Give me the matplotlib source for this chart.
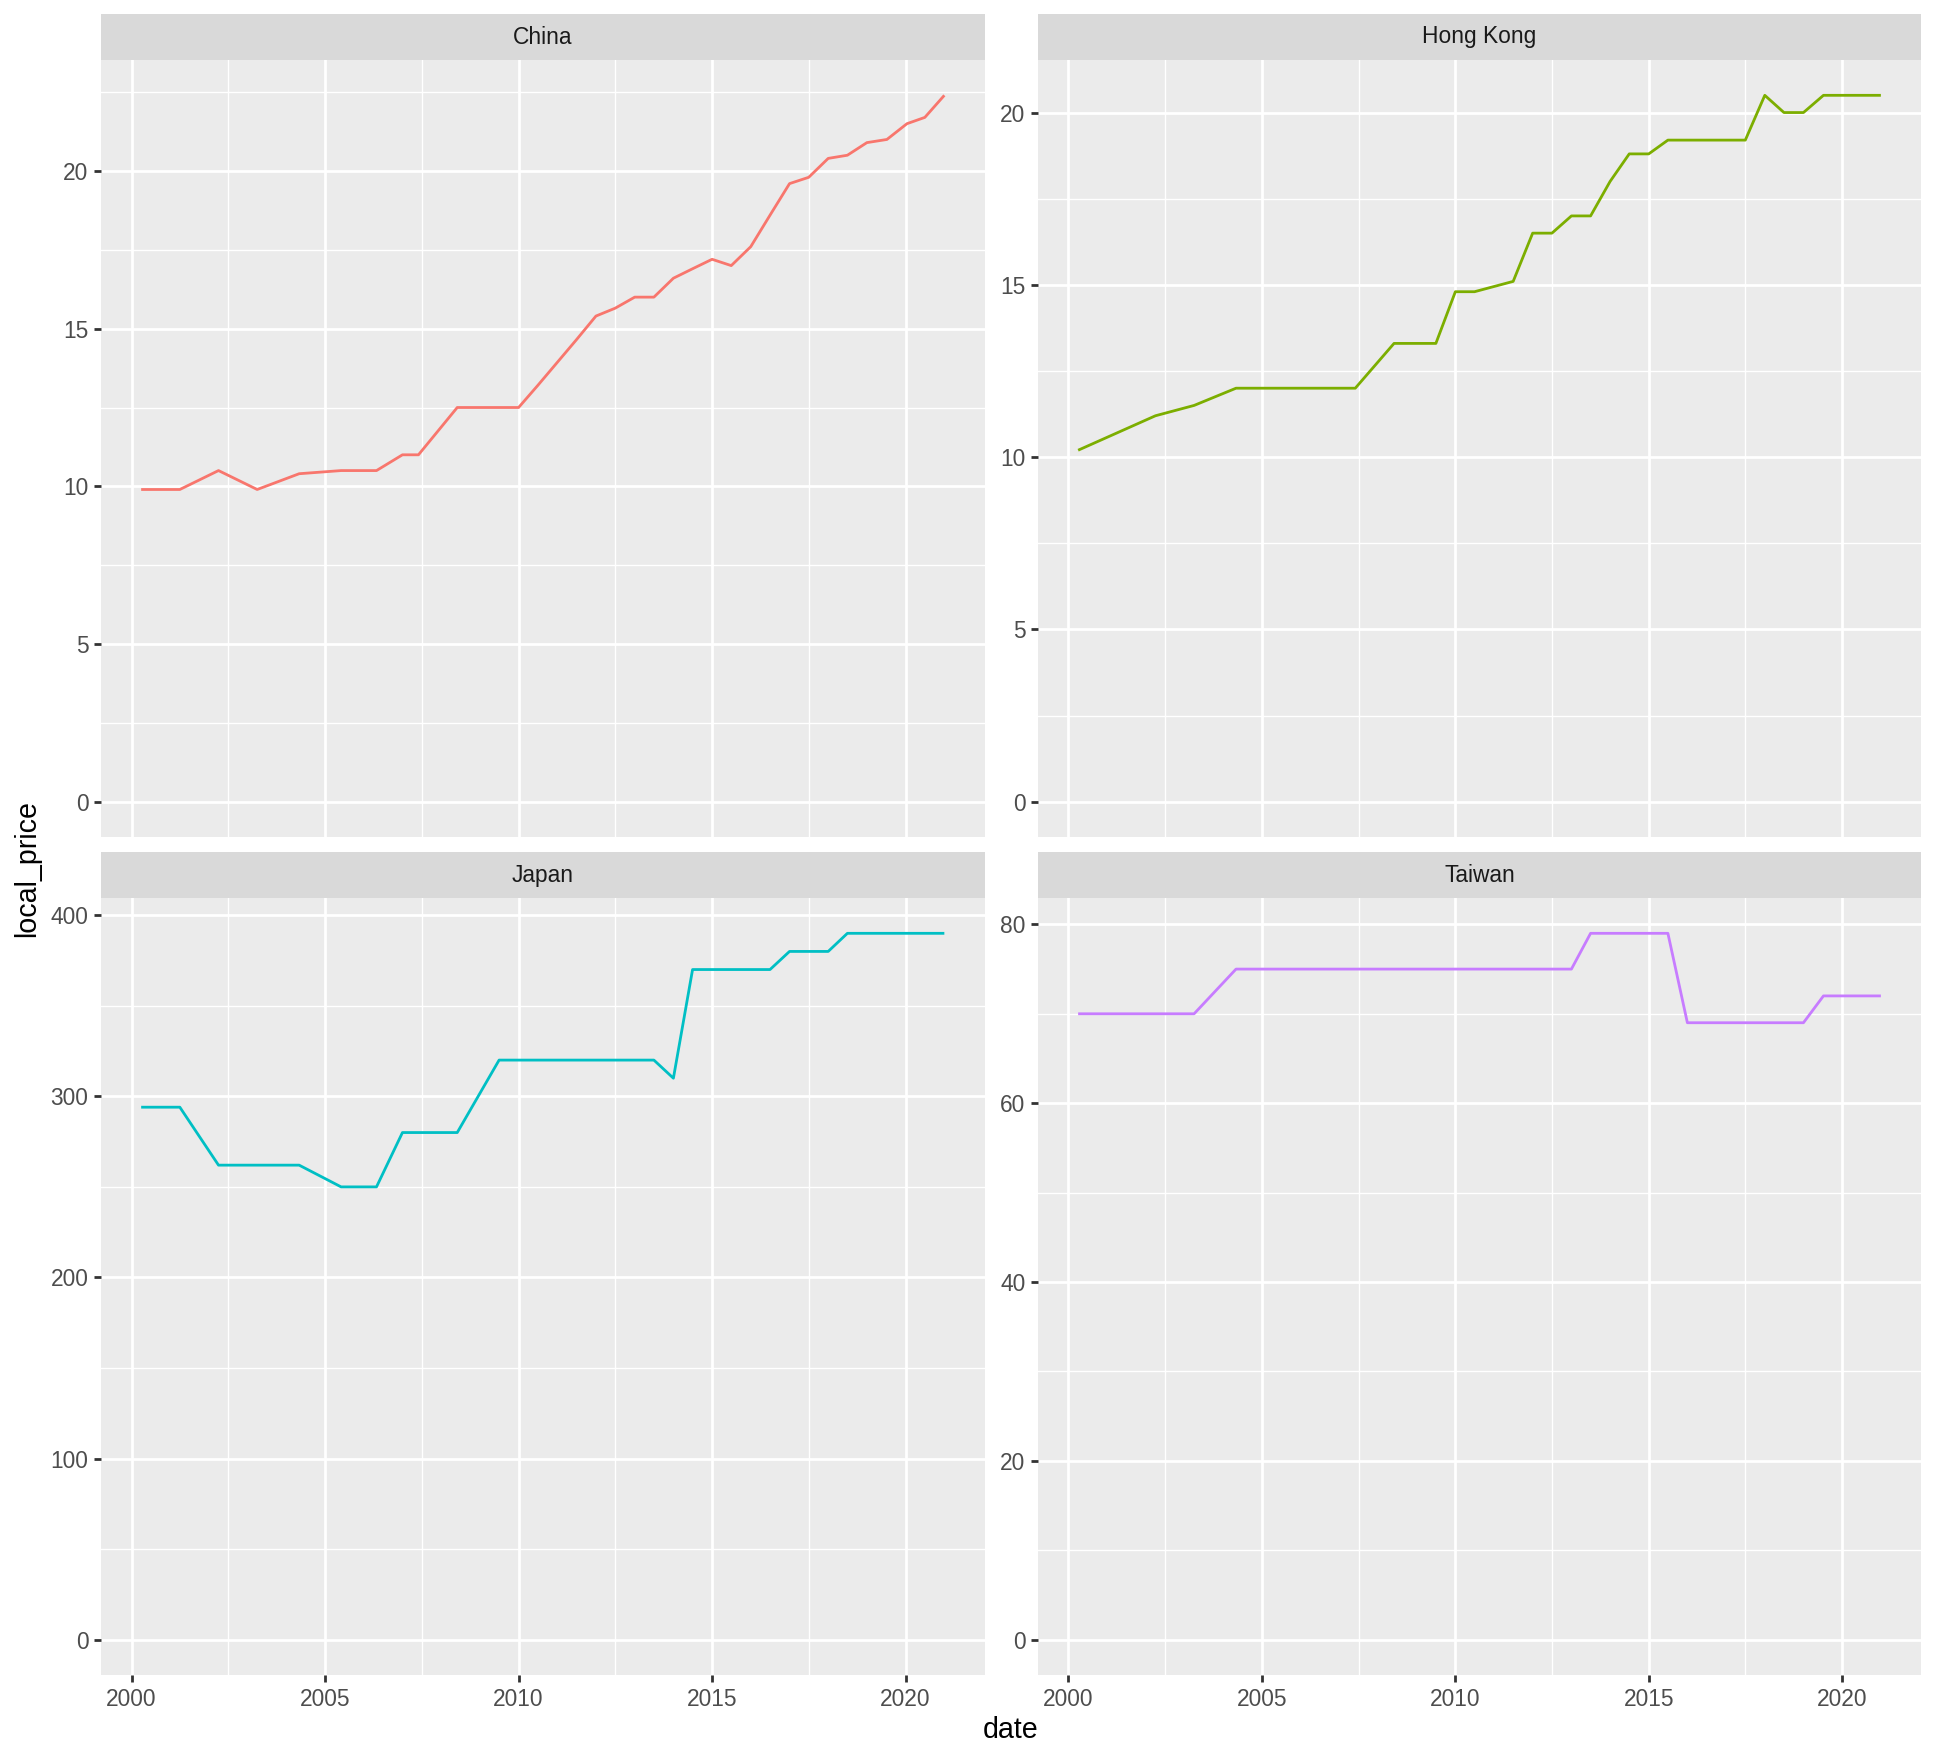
import matplotlib
matplotlib.use("Agg")
import matplotlib.dates as mdates
import numpy as np
import pandas as pd
from matplotlib import pyplot as plt

plt.rcParams["font.family"] = ["Liberation Sans", "DejaVu Sans"]

dates = pd.to_datetime([
    "2000-04-01", "2001-04-01", "2002-04-01", "2003-04-01", "2004-05-01",
    "2005-06-01", "2006-01-01", "2006-05-01", "2007-01-01", "2007-06-01",
    "2008-06-01", "2009-07-01", "2010-01-01", "2010-07-01", "2011-07-01",
    "2012-01-01", "2012-07-01", "2013-01-01", "2013-07-01", "2014-01-01",
    "2014-07-01", "2015-01-01", "2015-07-01", "2016-01-01", "2016-07-01",
    "2017-01-01", "2017-07-01", "2018-01-01", "2018-07-01", "2019-01-01",
    "2019-07-09", "2020-01-14", "2020-07-01", "2021-01-01",
])

china = [9.9, 9.9, 10.5, 9.9, 10.4, 10.5, 10.5, 10.5, 11.0, 11.0,
         12.5, 12.5, 12.5, 13.2, 14.65, 15.4, 15.65, 16.0, 16.0, 16.6,
         16.9, 17.2, 17.0, 17.6, 18.6, 19.6, 19.8, 20.4, 20.5, 20.9,
         21.0, 21.5, 21.7, 22.4]
hong_kong = [10.2, 10.7, 11.2, 11.5, 12.0, 12.0, 12.0, 12.0, 12.0, 12.0,
             13.3, 13.3, 14.8, 14.8, 15.1, 16.5, 16.5, 17.0, 17.0, 18.0,
             18.8, 18.8, 19.2, 19.2, 19.2, 19.2, 19.2, 20.5, 20.0, 20.0,
             20.5, 20.5, 20.5, 20.5]
japan = [294, 294, 262, 262, 262, 250, 250, 250, 280, 280,
         280, 320, 320, 320, 320, 320, 320, 320, 320, 310,
         370, 370, 370, 370, 370, 380, 380, 380, 390, 390,
         390, 390, 390, 390]
taiwan = [70, 70, 70, 70, 75, 75, 75, 75, 75, 75,
          75, 75, 75, 75, 75, 75, 75, 75, 79, 79,
          79, 79, 79, 69, 69, 69, 69, 69, 69, 69,
          72, 72, 72, 72]

countries = ["China", "Hong Kong", "Japan", "Taiwan"]
series = [china, hong_kong, japan, taiwan]
colors = ["#F8766D", "#7CAE00", "#00BFC4", "#C77CFF"]
y_breaks = [[0, 5, 10, 15, 20], [0, 5, 10, 15, 20],
            [0, 100, 200, 300, 400], [0, 20, 40, 60, 80]]
x_years = [2000, 2005, 2010, 2015, 2020]

W, H = 1936, 1760
fig = plt.figure(figsize=(W / 200, H / 200), dpi=200)

# panel boxes in pixels: (left, right) and (strip top, panel top, panel bottom)
cols = [(101, 984.5), (1038, 1921)]
rows = [(14, 60, 837), (852, 898, 1675)]

tick_fs = 8.2
lw_major = 1.0
lw_minor = 0.5

xnum = mdates.date2num(dates)
x0, x1 = xnum.min(), xnum.max()
xpad = (x1 - x0) * 0.05
xmaj = mdates.date2num(pd.to_datetime([f"{y}-01-01" for y in x_years]))
xmin_ = (xmaj[:-1] + xmaj[1:]) / 2
xmin_ = np.concatenate([xmin_, [xmaj[-1] + (xmaj[-1] - xmaj[-2]) / 2]])

for i, (name, vals, col, yb) in enumerate(zip(countries, series, colors, y_breaks)):
    r, c = divmod(i, 2)
    left, right = cols[c]
    stop, ptop, pbot = rows[r]
    ax = fig.add_axes([left / W, 1 - pbot / H, (right - left) / W, (pbot - ptop) / H])
    sax = fig.add_axes([left / W, 1 - ptop / H, (right - left) / W, (ptop - stop) / H])

    ax.set_facecolor("#EBEBEB")
    for s in ax.spines.values():
        s.set_visible(False)

    ymax = max(vals)
    ypad = ymax * 0.05
    ax.set_ylim(-ypad, ymax + ypad)
    ax.set_xlim(x0 - xpad, x1 + xpad)

    ymin_ = [(a + b) / 2 for a, b in zip(yb[:-1], yb[1:])]
    if yb[-1] + (yb[1] - yb[0]) / 2 <= ymax + ypad:
        ymin_.append(yb[-1] + (yb[1] - yb[0]) / 2)

    for v in xmin_:
        ax.axvline(v, color="white", lw=lw_minor, zorder=1)
    for v in ymin_:
        ax.axhline(v, color="white", lw=lw_minor, zorder=1)
    for v in xmaj:
        ax.axvline(v, color="white", lw=lw_major, zorder=1)
    for v in yb:
        ax.axhline(v, color="white", lw=lw_major, zorder=1)

    ax.plot(xnum, vals, color=col, lw=1.0, zorder=3, solid_capstyle="butt")

    ax.set_yticks(yb)
    ax.set_yticklabels([str(v) for v in yb])
    ax.tick_params(axis="y", length=2.56, width=lw_major, color="#333333",
                   labelsize=tick_fs, labelcolor="#4D4D4D", pad=2.0)
    if r == 1:
        ax.set_xticks(xmaj)
        ax.set_xticklabels([str(y) for y in x_years])
        ax.tick_params(axis="x", length=2.56, width=lw_major, color="#333333",
                       labelsize=tick_fs, labelcolor="#4D4D4D", pad=2.0)
    else:
        ax.set_xticks([])

    sax.set_facecolor("#D9D9D9")
    for s in sax.spines.values():
        s.set_visible(False)
    sax.set_xticks([])
    sax.set_yticks([])
    sax.text(0.5, 0.5, name, ha="center", va="center", fontsize=tick_fs,
             color="#1A1A1A", transform=sax.transAxes)

fig.text(1011 / W, 1 - 1730 / H, "date", ha="center", va="center", fontsize=10.3)
fig.text(27 / W, 1 - 868 / H, "local_price", ha="center", va="center",
         rotation=90, fontsize=10.3)

fig.savefig("out.png", dpi=200, facecolor="white")
